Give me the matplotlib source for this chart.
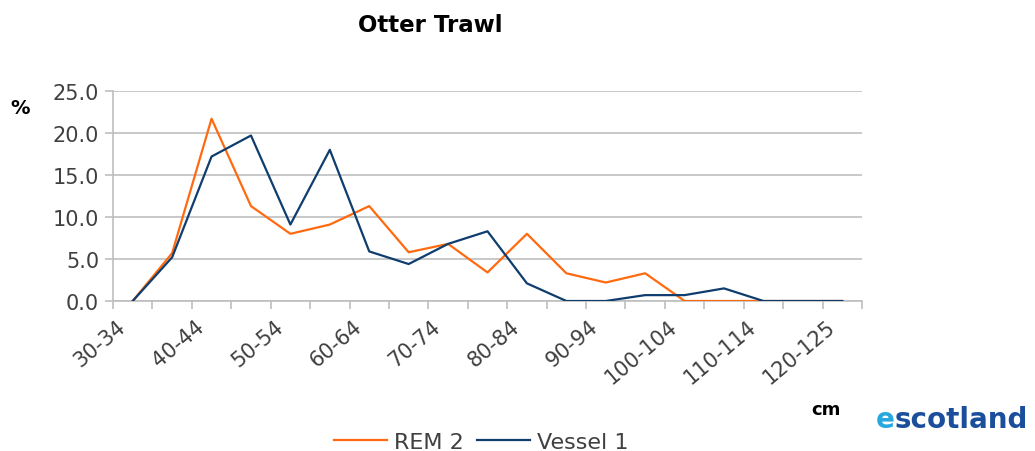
import numpy as np
import matplotlib
matplotlib.use("Agg")
import matplotlib.pyplot as plt
import matplotlib.transforms as mtransforms

# length classes (cm) and % of catch
cats = ['30-34', '35-39', '40-44', '45-49', '50-54', '55-59', '60-64', '65-69',
        '70-74', '75-79', '80-84', '85-89', '90-94', '95-99', '100-104',
        '105-109', '110-114', '115-119', '120-125']
rem2 = [0, 5.7, 21.7, 11.3, 8.0, 9.1, 11.3, 5.8, 6.8, 3.4, 8.0, 3.3, 2.2, 3.3,
        0, 0, 0, 0, 0]
vessel1 = [0, 5.2, 17.2, 19.7, 9.1, 18.0, 5.9, 4.4, 6.8, 8.3, 2.1, 0, 0, 0.7,
           0.7, 1.5, 0, 0, 0]
yticks = [0, 5, 10, 15, 20, 25]

plt.rcParams['font.family'] = ['DejaVu Sans']
grey = '#BFBFBF'
txt = '#404040'

fig = plt.figure(figsize=(10.35, 4.52), dpi=100)
ax = fig.add_axes([113 / 1035, 150 / 452, 749 / 1035, 210 / 452])

x = np.arange(len(cats))
ax.plot(x, rem2, color='#FF6A10', lw=1.6, label='REM 2', zorder=3)
ax.plot(x, vessel1, color='#0E3D6E', lw=1.6, label='Vessel 1', zorder=4)

ax.set_xlim(-0.5, len(cats) - 0.5)
ax.set_ylim(0, 25)
ax.set_yticks(yticks)
ax.set_yticklabels([f'{v:.1f}' for v in yticks])
ax.yaxis.grid(True, color=grey, lw=1.2)
ax.set_axisbelow(True)

# category tick marks between classes, labels on every other class
ax.set_xticks(np.arange(-0.5, len(cats)), minor=True)
ax.set_xticks(x[::2])
ax.set_xticklabels(cats[::2], rotation=40, ha='right', va='center',
                   rotation_mode='anchor')
ax.tick_params(axis='x', which='major', length=0, pad=16, labelsize=15, labelcolor=txt)
ax.tick_params(axis='x', which='minor', length=6, color=grey, width=1.2)
ax.tick_params(axis='y', length=6, color=grey, width=1.2, labelsize=15,
               labelcolor=txt, pad=4)
shift = mtransforms.ScaledTranslation(-10 / 100, 0, fig.dpi_scale_trans)
for lab in ax.get_xticklabels():
    lab.set_transform(lab.get_transform() + shift)

for s in ['top', 'right']:
    ax.spines[s].set_visible(False)
for s in ['left', 'bottom']:
    ax.spines[s].set_color(grey)
    ax.spines[s].set_linewidth(1.2)

fig.text(430 / 1035, 1 - 25 / 452, 'Otter Trawl', fontsize=16.5, fontweight='bold',
         ha='center', va='center', color='black')
fig.text(20 / 1035, 1 - 108 / 452, '%', fontsize=14, fontweight='bold',
         ha='center', va='center')
fig.text(826 / 1035, 1 - 410 / 452, 'cm', fontsize=13, fontweight='bold',
         ha='center', va='center')

fig.legend(loc='center', bbox_to_anchor=(481 / 1035, 1 - 443 / 452), ncol=2,
           frameon=False, fontsize=16, handlelength=2.4, columnspacing=0.6,
           handletextpad=0.3, labelcolor=txt)

# partial logo at bottom right
fig.text(876 / 1035, 1 - 420 / 452, 'e', fontsize=20, fontweight='bold',
         color='#29A8E0', ha='left', va='center')
fig.text(895 / 1035, 1 - 420 / 452, 'scotland', fontsize=20, fontweight='bold',
         color='#1B4F9C', ha='left', va='center')

fig.savefig('out.png', dpi=100)
